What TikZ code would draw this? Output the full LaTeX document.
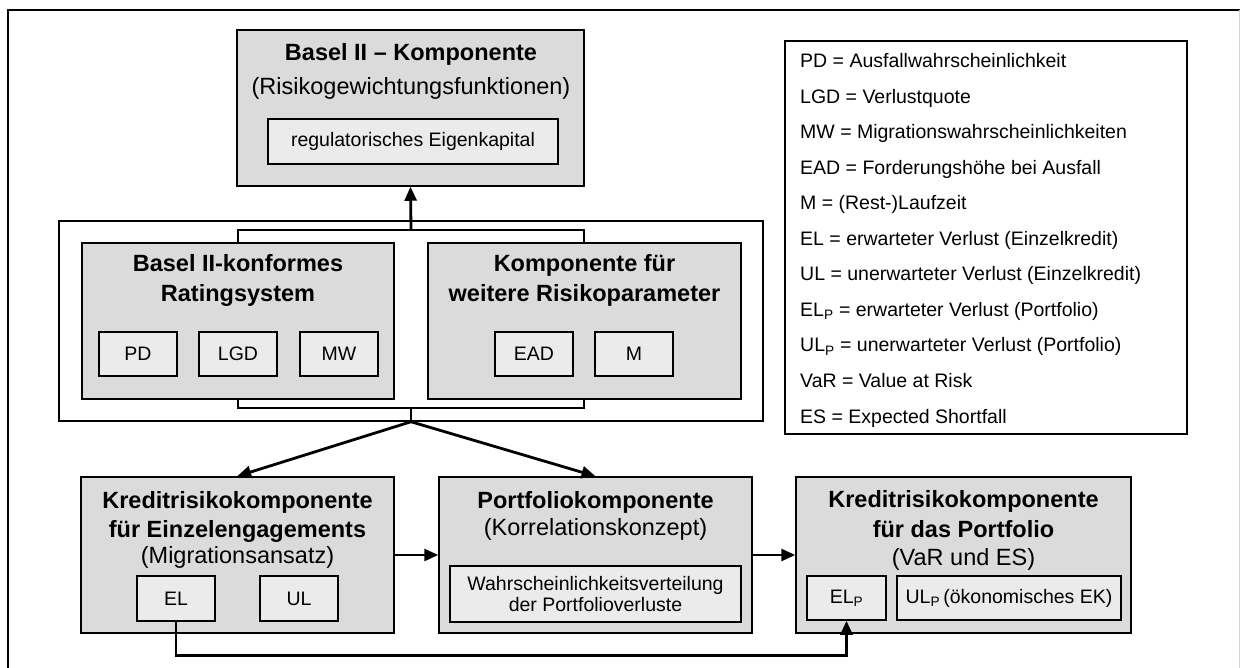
\documentclass[tikz,border=0pt]{standalone}
\usepackage{fontspec}
\setmainfont{Liberation Sans}
\usetikzlibrary{arrows.meta}
\definecolor{boxgray}{gray}{0.86}
\definecolor{innergray}{gray}{0.92}
\begin{document}
\begin{tikzpicture}[x=1pt,y=-1pt,
  big/.style={font=\fontsize{23.5}{28}\selectfont},
  bigb/.style={font=\fontsize{23.5}{28}\selectfont\bfseries},
  small/.style={font=\fontsize{19.5}{23}\selectfont},
  sz/.style n args={2}{minimum width=#1, minimum height=#2},
  gbox/.style={draw, line width=1.5pt, fill=boxgray, inner sep=0pt},
  ibox/.style={draw, line width=1.5pt, fill=innergray, inner sep=0pt, small},
  wbox/.style={draw, line width=1.5pt, fill=white, inner sep=0pt},
  ttl/.style={anchor=base, inner sep=0pt},
  arr/.style={line width=2.8pt, -{Triangle[length=14pt,width=12pt]}},
  conn/.style={line width=1.7pt}
]
\useasboundingbox (0,0) rectangle (1240,668);
% outer frame
\draw[line width=1.5pt] (8,668) -- (8,10) -- (1240,10);
\draw[gray!35, line width=1pt] (1239.5,10) -- (1239.5,668);

% top component
\node[gbox, sz={347pt}{156pt}] (top) at (410.5,108) {};
\node[ttl, bigb] (toptitle) at (411,61) {Basel II -- Komponente};
\node[ttl, big] (topsub) at (411,95) {(Risikogewichtungsfunktionen)};
\node[ibox, sz={290pt}{45pt}] (reg) at (413,141.5) {regulatorisches Eigenkapital};

% middle group
\node[wbox, sz={704pt}{200pt}] (midbox) at (411,321) {};
\node[draw, conn, inner sep=0pt, sz={346pt}{178pt}] (bracket) at (411,319) {};
\node[gbox, sz={312pt}{156pt}] (rs) at (238,321) {};
\node[ttl, bigb] (rst1) at (238,272) {Basel II-konformes};
\node[ttl, bigb] (rst2) at (238,302) {Ratingsystem};
\node[ibox, sz={78pt}{44pt}] (pd) at (138,354) {PD};
\node[ibox, sz={78pt}{44pt}] (lgd) at (238,354) {LGD};
\node[ibox, sz={78pt}{44pt}] (mw) at (339,354) {MW};

\node[gbox, sz={313pt}{156pt}] (rp) at (584.5,321) {};
\node[ttl, bigb] (rpt1) at (584.5,272) {Komponente für};
\node[ttl, bigb] (rpt2) at (584.5,302) {weitere Risikoparameter};
\node[ibox, sz={78pt}{44pt}] (ead) at (534,354) {EAD};
\node[ibox, sz={78pt}{44pt}] (m) at (634,354) {M};

% legend
\node[wbox, sz={402pt}{393pt}] (legend) at (986,237.5) {};
\foreach \i/\t in {0/{PD = Ausfallwahrscheinlichkeit},
                   1/{LGD = Verlustquote},
                   2/{MW = Migrationswahrscheinlichkeiten},
                   3/{EAD = Forderungshöhe bei Ausfall},
                   4/{M = (Rest-)Laufzeit},
                   5/{EL = erwarteter Verlust (Einzelkredit)},
                   6/{UL = unerwarteter Verlust (Einzelkredit)},
                   7/{EL\textsubscript{P} = erwarteter Verlust (Portfolio)},
                   8/{UL\textsubscript{P} = unerwarteter Verlust (Portfolio)},
                   9/{VaR = Value at Risk},
                   10/{ES = Expected Shortfall}}
  \node[anchor=base west, inner sep=0pt, small] (leg\i) at (800,68+35.5*\i) {\t};

% bottom row
\node[gbox, sz={313pt}{156pt}] (lbox) at (237.5,555) {};
\node[ttl, bigb] (lt1) at (237.5,508) {Kreditrisikokomponente};
\node[ttl, bigb] (lt2) at (237.5,537) {für Einzelengagements};
\node[ttl, big] (lt3) at (237.5,563) {(Migrationsansatz)};
\node[ibox, sz={78pt}{45pt}] (el) at (176,598.5) {EL};
\node[ibox, sz={78pt}{45pt}] (ul) at (299,598.5) {UL};

\node[gbox, sz={313pt}{156pt}] (mbox) at (595.5,555) {};
\node[ttl, bigb] (mt1) at (595.5,508) {Portfoliokomponente};
\node[ttl, big] (mt2) at (595.5,535) {(Korrelationskonzept)};
\node[ibox, sz={291pt}{56pt}, align=center, font=\fontsize{19.5}{21.5}\selectfont] (wv) at (595.5,594) {Wahrscheinlichkeitsverteilung\\der Portfolioverluste};

\node[gbox, sz={335pt}{156pt}] (rbox) at (963.5,555) {};
\node[ttl, bigb] (rt1) at (963.5,507) {Kreditrisikokomponente};
\node[ttl, bigb] (rt2) at (963.5,537) {für das Portfolio};
\node[ttl, big] (rt3) at (963.5,565) {(VaR und ES)};
\node[ibox, sz={79pt}{44pt}] (elp) at (846.5,598) {EL\textsubscript{P}};
\node[ibox, sz={224pt}{44pt}] (ulp) at (1009,598) {UL\textsubscript{P}\,(ökonomisches EK)};

% connectors
\draw[arr] (bracket.north) -- (top.south);
\draw[conn] (bracket.south) -- (midbox.south);
\draw[arr] (midbox.south) -- (lbox.north -| bracket.west);
\draw[arr] (midbox.south) -- (mbox.north);
\draw[arr] (lbox.east) -- (mbox.west);
\draw[arr] (mbox.east) -- (rbox.west);
\draw[arr] (el.south) -- ++(0,34) -| (elp.south);
\end{tikzpicture}
\end{document}
